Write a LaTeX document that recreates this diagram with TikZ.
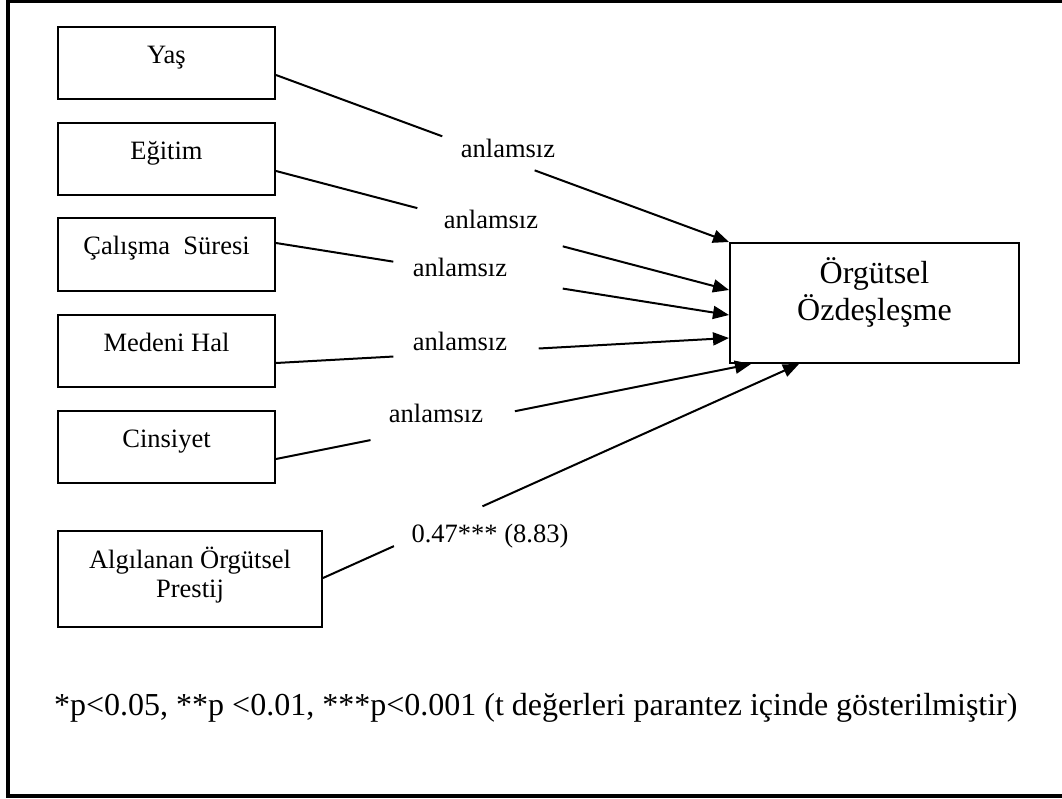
\documentclass[tikz,border=0pt]{standalone}
\usepackage{fontspec}
\setmainfont{Liberation Serif}
\usetikzlibrary{arrows.meta,calc}
\begin{document}
\begin{tikzpicture}[x=1pt,y=-1pt,
  varbox/.style={draw,line width=2pt,inner sep=0pt,minimum width=217pt,minimum height=72pt,
    text height=10pt,text depth=10pt,font=\fontsize{26.5}{29}\selectfont},
  pathlbl/.style={anchor=base,inner sep=0pt,font=\fontsize{26.5}{29}\selectfont},
  link/.style={line width=2pt},
  effect/.style={line width=2pt,-{Triangle[length=16pt,width=13pt]}}]
\useasboundingbox (0,0) rectangle (1062,798);

% frame, open on the right
\draw[line width=3.5pt] (1062,1.5) -- (8,1.5) -- (8,796) -- (1062,796);

% predictor boxes
\node[varbox] (yas) at (166.5,63) {Yaş};
\node[varbox] (egitim) at (166.5,159) {Eğitim};
\node[varbox,minimum height=73pt] (calisma) at (166.5,254.5) {Çalışma\ \ Süresi};
\node[varbox] (medeni) at (166.5,351) {Medeni Hal};
\node[varbox] (cins) at (166.5,447) {Cinsiyet};
\node[varbox,minimum width=264pt,minimum height=96pt,text depth=32pt] (prestij) at (190,579)
  {\begin{tabular}[t]{@{}c@{}}Algılanan Örgütsel\\Prestij\end{tabular}};

% outcome box
\node[draw,line width=2pt,inner sep=0pt,minimum width=289pt,minimum height=120pt,
  text height=10pt,text depth=50pt,font=\fontsize{32}{37}\selectfont] (org) at (874.5,303)
  {\begin{tabular}[t]{@{}c@{}}Örgütsel\\Özdeşleşme\end{tabular}};

% path labels
\node[pathlbl] (l1) at (508,157) {anlamsız};
\node[pathlbl] (l2) at (491,228) {anlamsız};
\node[pathlbl] (l3) at (460,276) {anlamsız};
\node[pathlbl] (l4) at (460,350) {anlamsız};
\node[pathlbl] (l5) at (436,422) {anlamsız};
\node[pathlbl] (l6) at (490,542) {0.47*** (8.83)};

% start and end points of the paths
\coordinate (a1) at ($(yas.east)+(0,12)$);
\coordinate (a2) at ($(egitim.east)+(0,12)$);
\coordinate (a3) at ($(calisma.east)+(0,-11.5)$);
\coordinate (a4) at ($(medeni.east)+(0,12)$);
\coordinate (a5) at ($(cins.east)+(0,12)$);
\coordinate (a6) at ($(prestij.east)+(0,-1)$);
\coordinate (t1) at (org.north west);
\coordinate (t2) at ($(org.west)+(0,-13)$);
\coordinate (t3) at ($(org.west)+(0,12)$);
\coordinate (t4) at ($(org.west)+(0,35)$);
\coordinate (t5) at ($(org.south west)+(22,0)$);
\coordinate (t6) at ($(org.south west)+(70,0)$);

% paths, broken where the labels sit
\draw[link] (a1) -- ($(a1)!0.367!(t1)$);
\draw[effect] ($(a1)!0.571!(t1)$) -- (t1);
\draw[link] (a2) -- ($(a2)!0.312!(t2)$);
\draw[effect] ($(a2)!0.633!(t2)$) -- (t2);
\draw[link] (a3) -- ($(a3)!0.259!(t3)$);
\draw[effect] ($(a3)!0.633!(t3)$) -- (t3);
\draw[link] (a4) -- ($(a4)!0.259!(t4)$);
\draw[effect] ($(a4)!0.580!(t4)$) -- (t4);
\draw[link] (a5) -- ($(a5)!0.199!(t5)$);
\draw[effect] ($(a5)!0.503!(t5)$) -- (t5);
\draw[link] (a6) -- ($(a6)!0.149!(t6)$);
\draw[effect] ($(a6)!0.335!(t6)$) -- (t6);

% significance note
\node[anchor=base west,inner sep=0pt,font=\fontsize{32}{36}\selectfont] (note) at (54,715)
  {*p<0.05, **p <0.01, ***p<0.001 (t değerleri parantez içinde gösterilmiştir)};
\end{tikzpicture}
\end{document}
